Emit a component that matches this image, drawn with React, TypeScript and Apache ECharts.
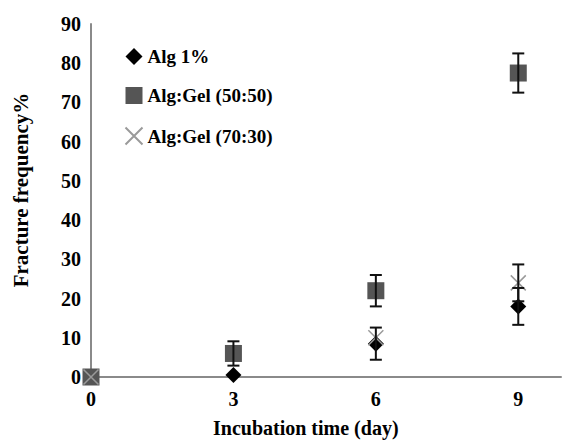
import React, { useEffect, useRef } from "react";
import * as echarts from "echarts";

const days = [0, 3, 6, 9];
const alg1 = [0, 0.5, 8.5, 18];
const alg1Err = [0, 0, 4.1, 4.7];
const gel5050 = [0, 6, 22, 77.5];
const gel5050Err = [0, 3.1, 4, 5];
const gel7030: (number | null)[] = [0, null, 10, 24];
const gel7030Err = [0, 0, 0, 4.7];
const yTicks = [0, 10, 20, 30, 40, 50, 60, 70, 80, 90];
const xTicks = [0, 3, 6, 9];

const FONT = "'Liberation Serif', 'Times New Roman', serif";
const CROSS = "path://M0,0L10,10M0,10L10,0";

function errData(vals: (number | null)[], errs: number[]) {
  return days
    .map((d, i) => [d, (vals[i] ?? 0) - errs[i], (vals[i] ?? 0) + errs[i], errs[i]])
    .filter((r, i) => r[3] > 0 && vals[i] !== null);
}

function errSeries(vals: (number | null)[], errs: number[]) {
  return {
    type: "custom",
    z: 10,
    silent: true,
    data: errData(vals, errs),
    encode: { x: 0, y: [1, 2] },
    renderItem: (params: any, api: any) => {
      const x = api.value(0);
      const lo = api.coord([x, api.value(1)]);
      const hi = api.coord([x, api.value(2)]);
      const w = 6;
      const style = { stroke: "#111", lineWidth: 2 };
      return {
        type: "group",
        children: [
          { type: "line", shape: { x1: lo[0], y1: lo[1], x2: hi[0], y2: hi[1] }, style },
          { type: "line", shape: { x1: lo[0] - w, y1: lo[1], x2: lo[0] + w, y2: lo[1] }, style },
          { type: "line", shape: { x1: hi[0] - w, y1: hi[1], x2: hi[0] + w, y2: hi[1] }, style },
        ],
      };
    },
  };
}

export default function App() {
  const ref = useRef<HTMLDivElement>(null);
  useEffect(() => {
    if (!ref.current) return;
    const chart = echarts.init(ref.current, undefined, { renderer: "svg" });
    chart.setOption({
      animation: false,
      backgroundColor: "#fff",
      grid: { left: 91, right: 0, top: 24, bottom: 65 },
      xAxis: {
        type: "value",
        min: 0,
        max: 9.9,
        interval: 3,
        showMaxLabel: false,
        axisLine: { show: true, onZero: false, lineStyle: { color: "#8a8a8a", width: 2 } },
        axisTick: { show: false },
        splitLine: { show: false },
        axisLabel: {
          margin: 12,
          color: "#000",
          fontFamily: FONT,
          fontWeight: "bold",
          fontSize: 20,
          formatter: (v: number) => (xTicks.includes(v) ? String(v) : ""),
        },
      },
      yAxis: {
        type: "value",
        min: 0,
        max: 90,
        interval: 10,
        axisLine: { show: true, lineStyle: { color: "#8a8a8a", width: 2 } },
        axisTick: { show: false },
        splitLine: { show: false },
        axisLabel: {
          margin: 10,
          color: "#000",
          fontFamily: FONT,
          fontWeight: "bold",
          fontSize: 20,
          formatter: (v: number) => (yTicks.includes(v) ? String(v) : ""),
        },
      },
      legend: {
        orient: "vertical",
        left: 118,
        top: 42,
        itemGap: 20,
        itemWidth: 17,
        itemHeight: 17,
        data: ["Alg 1%", "Alg:Gel (50:50)", "Alg:Gel (70:30)"],
        textStyle: { fontFamily: FONT, fontWeight: "bold", fontSize: 19, color: "#000" },
      },
      graphic: [
        {
          type: "text",
          left: 213,
          top: 418,
          style: {
            text: "Incubation time (day)",
            font: `bold 20px ${FONT}`,
            fill: "#000",
          },
        },
        {
          type: "text",
          x: 21,
          y: 190,
          rotation: Math.PI / 2,
          style: {
            text: "Fracture frequency%",
            font: `bold 21px ${FONT}`,
            fill: "#000",
            align: "center",
            verticalAlign: "middle",
          },
        },
      ],
      series: [
        {
          name: "Alg 1%",
          type: "scatter",
          z: 3,
          symbol: "diamond",
          symbolSize: 16,
          itemStyle: { color: "#000", opacity: 1 },
          data: days.map((d, i) => [d, alg1[i]]),
        },
        {
          name: "Alg:Gel (50:50)",
          type: "scatter",
          z: 4,
          symbol: "rect",
          symbolSize: 17,
          itemStyle: { color: "#555", opacity: 1 },
          data: days.map((d, i) => [d, gel5050[i]]),
        },
        {
          name: "Alg:Gel (70:30)",
          type: "scatter",
          z: 5,
          symbol: CROSS,
          symbolSize: 15,
          itemStyle: { color: "none", borderColor: "#9a9a9a", borderWidth: 1.5, opacity: 1 },
          data: days.map((d, i) => [d, gel7030[i]]).filter((p) => p[1] !== null),
        },
        errSeries(alg1, alg1Err),
        errSeries(gel5050, gel5050Err),
        errSeries(gel7030, gel7030Err),
      ],
    });
    return () => chart.dispose();
  }, []);
  return <div ref={ref} style={{ width: 564, height: 442, position: "absolute", left: 0, top: 0 }} />;
}
